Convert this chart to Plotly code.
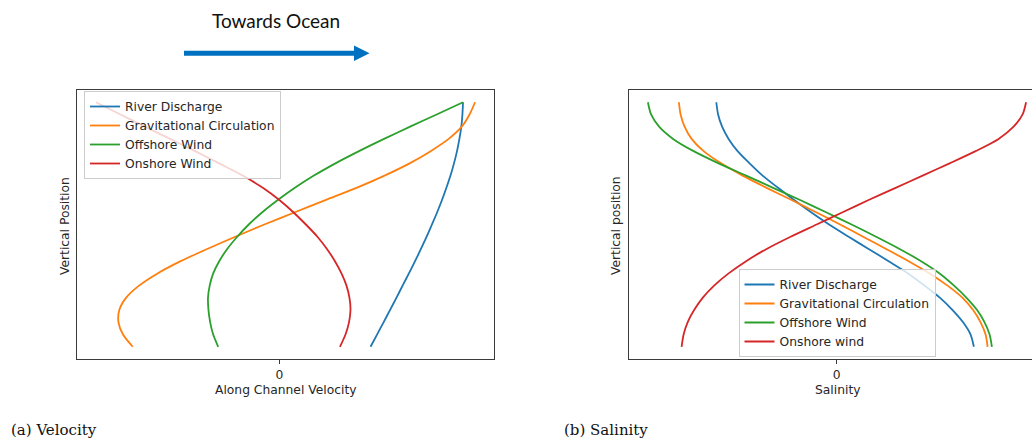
import plotly.graph_objects as go

# Figure size in pixels
W, H = 1032, 439

# Normalised vertical position: 0 = bed, 1 = free surface
height = [0.00, 0.05, 0.10, 0.15, 0.20, 0.25, 0.30, 0.35, 0.40, 0.45, 0.50,
          0.55, 0.60, 0.65, 0.70, 0.75, 0.80, 0.85, 0.90, 0.95, 1.00]

# (a) Along-channel velocity profiles (arbitrary units, positive = towards ocean)
vel_river = [0.91, 0.975, 1.04, 1.104, 1.168, 1.23, 1.293, 1.354, 1.413, 1.47, 1.523,
             1.575, 1.623, 1.667, 1.708, 1.743, 1.773, 1.797, 1.816, 1.827, 1.833]
vel_gravitational = [-1.463, -1.56, -1.605, -1.597, -1.53, -1.40, -1.215, -0.985, -0.72, -0.44, -0.15,
                     0.155, 0.46, 0.77, 1.05, 1.30, 1.51, 1.69, 1.82, 1.898, 1.953]
vel_offshore = [-0.61, -0.66, -0.69, -0.707, -0.712, -0.695, -0.66, -0.60, -0.52, -0.42, -0.305,
                -0.17, -0.015, 0.155, 0.345, 0.56, 0.795, 1.045, 1.305, 1.57, 1.833]
vel_onshore = [0.605, 0.66, 0.695, 0.71, 0.70, 0.67, 0.62, 0.555, 0.475, 0.38, 0.265,
               0.14, 0.0, -0.165, -0.365, -0.60, -0.84, -1.09, -1.34, -1.585, -1.83]

# (b) Salinity anomaly profiles (arbitrary units)
sal_river = [1.373, 1.34, 1.265, 1.16, 1.035, 0.88, 0.715, 0.52, 0.32, 0.12, -0.075,
             -0.255, -0.425, -0.585, -0.74, -0.87, -0.99, -1.08, -1.145, -1.185, -1.203]
sal_gravitational = [1.51, 1.49, 1.44, 1.365, 1.26, 1.11, 0.93, 0.72, 0.495, 0.265, 0.035,
                     -0.205, -0.45, -0.70, -0.94, -1.155, -1.33, -1.45, -1.52, -1.56, -1.577]
sal_offshore = [1.553, 1.53, 1.48, 1.405, 1.30, 1.175, 1.03, 0.845, 0.63, 0.395, 0.15,
                -0.105, -0.365, -0.635, -0.905, -1.18, -1.43, -1.635, -1.775, -1.855, -1.887]
sal_onshore = [-1.55, -1.53, -1.49, -1.425, -1.34, -1.225, -1.08, -0.905, -0.70, -0.46, -0.20,
               0.06, 0.32, 0.59, 0.86, 1.13, 1.39, 1.62, 1.77, 1.86, 1.895]

names_velocity = ["River Discharge", "Gravitational Circulation", "Offshore Wind", "Onshore Wind"]
names_salinity = ["River Discharge", "Gravitational Circulation", "Offshore Wind", "Onshore wind"]
colors = ["#1f77b4", "#ff7f0e", "#2ca02c", "#d62728"]

FONT = "DejaVu Sans"
FS = 12.3
TXT = "#262626"
SPINE = "#3a3a3a"


def px_x(x):
    return x / W


def px_y(y):
    return (H - y) / H


def padded(values, frac=0.05):
    lo, hi = min(values), max(values)
    pad = (hi - lo) * frac
    return lo - pad, hi + pad


fig = go.Figure()

vel_series = [vel_river, vel_gravitational, vel_offshore, vel_onshore]
sal_series = [sal_river, sal_gravitational, sal_offshore, sal_onshore]

for name, vals, col in zip(names_velocity, vel_series, colors):
    fig.add_trace(go.Scatter(
        x=vals, y=height, mode="lines", name=name,
        line=dict(color=col, width=1.8, shape="spline", smoothing=0.8),
        xaxis="x", yaxis="y", legend="legend", hoverinfo="skip",
    ))

for name, vals, col in zip(names_salinity, sal_series, colors):
    fig.add_trace(go.Scatter(
        x=vals, y=height, mode="lines", name=name,
        line=dict(color=col, width=1.8, shape="spline", smoothing=0.8),
        xaxis="x2", yaxis="y2", legend="legend2", hoverinfo="skip",
    ))

# Axis limits with 5 % padding around the data
vel_lo, vel_hi = padded([v for s in vel_series for v in s])
sal_lo, sal_hi = padded([v for s in sal_series for v in s])
y_lo, y_hi = padded(height)

# Panel geometry (pixels)
L_LEFT, L_RIGHT = 77, 494
R_LEFT, R_FULL_RIGHT = 629, 1045
TOP, BOTTOM = 90, 359

# The salinity panel runs past the page edge; show only the visible part
sal_visible_hi = sal_lo + (W - R_LEFT) / (R_FULL_RIGHT - R_LEFT) * (sal_hi - sal_lo)

axis_common = dict(
    showgrid=False, zeroline=False, linecolor=SPINE, linewidth=1,
    ticks="outside", ticklen=4, tickwidth=1, tickcolor=SPINE,
    tickfont=dict(family=FONT, size=FS, color=TXT),
)
yaxis_common = dict(
    showticklabels=False, ticks="", showline=True, showgrid=False,
    zeroline=False, linecolor=SPINE, linewidth=1,
)

fig.update_layout(
    width=W, height=H, autosize=False,
    margin=dict(l=0, r=0, t=0, b=0),
    paper_bgcolor="white", plot_bgcolor="white",
    xaxis=dict(domain=[px_x(L_LEFT), px_x(L_RIGHT)], range=[vel_lo, vel_hi],
               tickvals=[0], ticktext=["0"], showline=True, mirror=True,
               anchor="y", **axis_common),
    yaxis=dict(domain=[px_y(BOTTOM), px_y(TOP)], range=[y_lo, y_hi],
               mirror=True, anchor="x", **yaxis_common),
    xaxis2=dict(domain=[px_x(R_LEFT), 1.0], range=[sal_lo, sal_visible_hi],
                tickvals=[0], ticktext=["0"], showline=True, mirror=True,
                anchor="y2", **axis_common),
    yaxis2=dict(domain=[px_y(BOTTOM), px_y(TOP)], range=[y_lo, y_hi],
                mirror=False, anchor="x2", **yaxis_common),
    legend=dict(
        x=px_x(84), y=px_y(91), xanchor="left", yanchor="top",
        bgcolor="rgba(255,255,255,0.8)", bordercolor="#cccccc", borderwidth=1,
        font=dict(family=FONT, size=FS, color=TXT),
    ),
    legend2=dict(
        x=px_x(837), y=px_y(357), xanchor="center", yanchor="bottom",
        bgcolor="rgba(255,255,255,0.8)", bordercolor="#cccccc", borderwidth=1,
        font=dict(family=FONT, size=FS, color=TXT),
    ),
    showlegend=True,
)

annotations = [
    dict(text="Along Channel Velocity", x=px_x((L_LEFT + L_RIGHT) / 2), y=px_y(390)),
    dict(text="Salinity", x=px_x((R_LEFT + R_FULL_RIGHT) / 2), y=px_y(390)),
    dict(text="Vertical Position", x=px_x(65), y=px_y(226), textangle=-90),
    dict(text="Vertical position", x=px_x(616), y=px_y(226), textangle=-90),
]
for a in annotations:
    fig.add_annotation(xref="paper", yref="paper", showarrow=False,
                       xanchor="center", yanchor="middle",
                       font=dict(family=FONT, size=FS, color=TXT), **a)

# Sub-figure captions
for text, x in [("(a) Velocity", 9), ("(b) Salinity", 562)]:
    fig.add_annotation(text=text, xref="paper", yref="paper", showarrow=False,
                       x=px_x(x), y=px_y(430), xanchor="left", yanchor="middle",
                       font=dict(family="DejaVu Serif", size=15, color="#111111"))

# Direction indicator above the velocity panel
fig.add_annotation(text="Towards Ocean", xref="paper", yref="paper", showarrow=False,
                   x=px_x(276), y=px_y(21), xanchor="center", yanchor="middle",
                   font=dict(family="Lato", size=19, color="#111111"))
ARROW = "#0070c0"
fig.add_shape(type="rect", xref="paper", yref="paper",
              x0=px_x(184), x1=px_x(356), y0=px_y(55.8), y1=px_y(50.8),
              fillcolor=ARROW, line=dict(width=0))
fig.add_shape(type="path", xref="paper", yref="paper",
              path=f"M {px_x(354)} {px_y(45.5)} L {px_x(369.5)} {px_y(53.3)} L {px_x(354)} {px_y(61)} Z",
              fillcolor=ARROW, line=dict(width=0))

fig.write_html("out.html")
